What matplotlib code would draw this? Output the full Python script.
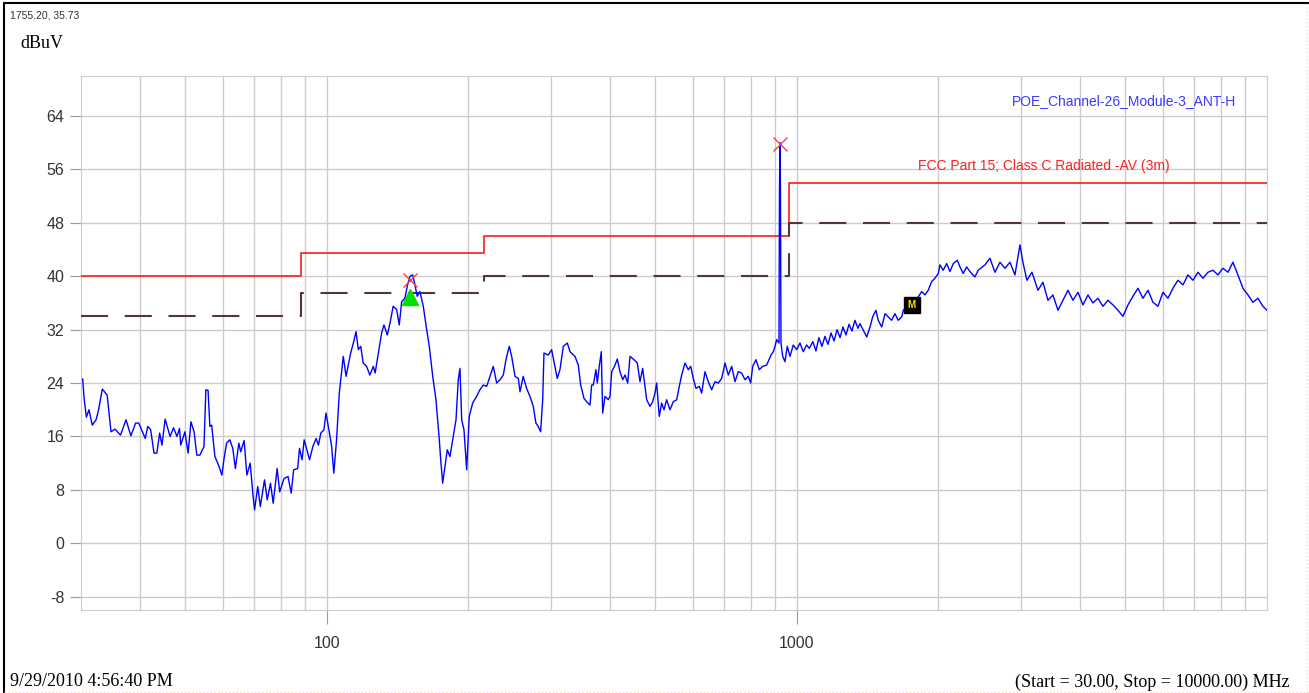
import matplotlib.pyplot as plt
from matplotlib.lines import Line2D

plt.rcParams['font.family'] = 'Liberation Sans'
plt.rcParams['axes.unicode_minus'] = False

# measured trace (MHz, dBuV)
freq_mhz = [
    30.25, 30.45, 30.8, 31.2, 31.7, 32.3, 32.7, 33.3, 34.1, 34.75,
    35.45, 36.4, 37.4, 38.3, 39.2, 39.8, 41.1, 41.6, 42.2, 42.9,
    43.5, 44.1, 44.6, 45.3, 46.4, 47.2, 48.0, 48.6, 48.9, 49.9,
    50.7, 51.4, 52.2, 52.9, 53.7, 54.8, 55.3, 55.9, 56.4, 56.9,
    57.8, 59.0, 59.8, 60.4, 61.2, 62.2, 63.1, 63.9, 65.0, 65.6,
    66.7, 67.6, 68.7, 69.6, 70.2, 71.3, 72.2, 73.7, 74.7, 75.9,
    76.9, 78.4, 79.4, 81.1, 82.7, 84.0, 85.0, 86.7, 87.5, 88.6,
    89.5, 91.9, 93.4, 94.9, 96.0, 97.1, 98.6, 99.6, 101.2, 102.4,
    103.5, 104.9, 106.3, 108.4, 109.9, 112.4, 113.9, 115.4, 116.7, 118.1,
    119.5, 121.5, 123.5, 125.6, 126.7, 128.7, 130.8, 132.3, 134.5, 136.3,
    138.4, 140.8, 142.6, 144.3, 146.6, 148.3, 150.3, 152.3, 154.0, 155.7,
    157.8, 160.4, 163.1, 165.2, 168.0, 170.7, 173.5, 174.7, 176.4, 178.4,
    180.4, 182.8, 185.8, 188.3, 190.4, 192.0, 193.6, 195.8, 198.4, 200.9,
    204.3, 208.3, 211.7, 215.2, 218.8, 222.4, 226.0, 229.8, 233.6, 237.4,
    240.5, 244.4, 247.3, 251.4, 255.5, 257.6, 261.7, 266.1, 270.5, 274.9,
    278.5, 281.7, 285.0, 287.9, 289.7, 295.9, 300.8, 305.7, 309.2, 313.3,
    318.5, 324.8, 329.1, 337.2, 342.7, 346.8, 352.4, 357.1, 363.0, 365.9,
    368.8, 373.7, 376.2, 379.8, 383.6, 386.2, 390.6, 396.9, 400.3, 403.7,
    410.3, 414.9, 420.4, 426.1, 430.9, 436.6, 441.6, 450.3, 457.6, 463.7,
    469.8, 475.1, 479.1, 486.9, 493.4, 499.0, 503.1, 509.6, 515.6, 521.5,
    528.4, 537.1, 545.8, 555.0, 562.1, 568.7, 578.0, 587.4, 594.4, 601.9,
    610.0, 619.9, 627.2, 637.5, 647.9, 658.7, 669.5, 680.4, 691.8, 703.2,
    714.6, 726.6, 738.4, 750.5, 763.0, 775.5, 788.1, 797.4, 805.3, 818.4,
    831.7, 845.7, 862.4, 880.8, 890.8, 898.2, 905.7, 916.0, 918.1, 920.5,
    922.6, 925.0, 932.8, 943.3, 954.0, 966.7, 982.4, 998.9, 1015.2, 1031.5,
    1048.9, 1062.3, 1081.5, 1097.6, 1113.8, 1130.5, 1147.3, 1164.3, 1182, 1199.5,
    1217.2, 1235.3, 1253.2, 1271.8, 1290.6, 1309.4, 1328.8, 1348.5, 1361.8, 1384.5,
    1407.7, 1430.7, 1449.1, 1472.6, 1489.3, 1515.1, 1539.9, 1565.0, 1590.4, 1616.4,
    1642.7, 1670.7, 1683.8, 1712.1, 1740.1, 1767.8, 1811.6, 1842.2, 1872.4, 1902.8,
    1934.6, 1966.2, 1998.2, 2015.0, 2047.9, 2082.3, 2116.3, 2151.0, 2193.8, 2222.9,
    2258.2, 2296.2, 2333.7, 2391.4, 2430.4, 2511.8, 2574.1, 2638.2, 2703.7, 2770.8,
    2839.5, 2909.5, 2981.7, 3025.4, 3085.3, 3162.4, 3256.8, 3337.4, 3420.3, 3505.0,
    3592.1, 3680.7, 3772.2, 3865.5, 3961.6, 4059.4, 4160.3, 4263.4, 4369.3, 4477.5,
    4588.7, 4702.6, 4819.5, 4937.9, 5060.7, 5186.3, 5315.2, 5446.9, 5582.3, 5719.5,
    5861.7, 6007.3, 6156.6, 6308.2, 6465.0, 6625.3, 6790.0, 6957.5, 7130.5, 7306.9,
    7488.5, 7673.5, 7864.2, 8059.2, 8259.5, 8463.1, 8673.5, 8888.3, 9109.2, 9334.6,
    9566.6, 9803.1, 9997.3]

level_dbuv = [
    24.6, 21.8, 18.9, 20.0, 17.7, 18.5, 20.0, 23.1, 22.2, 16.7,
    17.1, 16.2, 18.5, 16.1, 18.0, 18.0, 15.7, 17.5, 17.0, 13.5,
    13.5, 16.5, 14.7, 18.6, 16.0, 17.3, 16.0, 17.2, 14.7, 16.7,
    13.5, 18.2, 16.7, 13.2, 13.2, 14.5, 23.0, 22.9, 17.5, 17.7,
    13.0, 11.5, 10.2, 12.5, 15.0, 15.5, 14.2, 11.2, 15.0, 13.7,
    15.4, 10.2, 12.0, 7.5, 5.0, 8.5, 5.5, 9.5, 6.5, 9.0,
    6.0, 11.2, 7.7, 9.7, 10.0, 7.5, 11.0, 11.2, 14.2, 12.5,
    15.5, 12.5, 14.5, 15.7, 14.7, 16.5, 17.0, 19.5, 16.7, 14.5,
    10.5, 15.5, 22.5, 28.0, 25.0, 28.5, 30.0, 31.7, 29.0, 29.5,
    27.0, 26.5, 25.2, 26.5, 25.5, 28.5, 31.5, 32.7, 31.2, 33.0,
    35.5, 35.0, 32.7, 36.2, 36.7, 38.5, 40.0, 40.2, 38.7, 37.0,
    37.7, 35.5, 32.0, 29.5, 25.0, 21.5, 15.5, 12.5, 9.0, 11.5,
    14.0, 13.0, 16.0, 18.5, 24.5, 26.2, 18.5, 17.0, 11.0, 19.0,
    21.0, 22.0, 23.0, 23.7, 23.5, 25.0, 26.5, 24.0, 24.5, 25.2,
    27.5, 29.5, 28.0, 25.0, 24.7, 22.7, 25.0, 23.2, 22.0, 20.5,
    18.0, 17.5, 16.7, 21.5, 28.5, 28.2, 29.0, 26.5, 24.7, 26.0,
    29.5, 30.0, 28.7, 28.0, 26.7, 23.7, 21.7, 21.2, 20.7, 23.7,
    23.7, 26.0, 24.0, 26.5, 28.7, 19.5, 22.0, 21.5, 22.0, 25.7,
    26.7, 27.6, 25.7, 24.5, 25.2, 24.0, 28.0, 27.5, 27.0, 24.2,
    26.2, 23.5, 21.5, 20.5, 21.2, 22.5, 24.0, 19.0, 21.0, 20.0,
    21.5, 20.0, 21.2, 21.5, 23.5, 25.2, 27.0, 26.0, 26.5, 24.7,
    23.2, 23.5, 22.5, 25.7, 24.2, 23.0, 24.2, 24.0, 24.7, 27.0,
    25.2, 26.5, 24.2, 25.7, 25.5, 24.5, 25.0, 24.0, 26.5, 27.5,
    26.0, 26.5, 26.7, 28.2, 28.7, 29.5, 30.5, 30.0, 53.0, 60.0,
    53.0, 30.0, 28.0, 27.2, 29.5, 28.0, 29.7, 29.0, 30.0, 28.7,
    29.7, 29.2, 30.2, 28.8, 30.8, 29.5, 31.0, 29.8, 31.5, 30.3,
    32.0, 30.8, 32.4, 31.2, 32.8, 31.8, 33.4, 32.2, 32.9, 31.9,
    30.9, 32.4, 33.9, 34.9, 33.4, 32.4, 34.4, 33.9, 33.4, 34.4,
    33.4, 33.9, 34.9, 35.4, 35.9, 36.2, 36.9, 37.7, 37.2, 37.9,
    39.2, 39.7, 40.4, 41.7, 40.9, 41.9, 40.7, 41.9, 42.4, 41.4,
    40.4, 41.4, 40.7, 39.9, 40.9, 41.7, 42.7, 40.6, 42.1, 41.2,
    42.1, 40.2, 44.7, 42.1, 39.4, 40.6, 37.9, 39.1, 36.4, 37.2,
    34.9, 36.4, 37.9, 36.4, 37.6, 35.7, 37.2, 36.0, 36.7, 35.5,
    36.4, 35.7, 34.9, 34.0, 35.7, 37.0, 38.2, 36.7, 37.9, 36.1,
    35.5, 37.6, 36.7, 38.2, 39.4, 38.7, 40.2, 39.4, 40.6, 39.7,
    40.6, 40.9, 40.2, 41.2, 40.6, 42.1, 40.2, 38.2, 37.2, 36.1,
    36.7, 35.5, 34.9]

# limit lines (step edges)
limit_freq = [30, 88, 216, 960, 10000]
limit_red = [40, 43.5, 46, 54, 54]
limit_dash = [34, 37.5, 40, 48, 48]

# markers
peak_freq = [150.3, 920.5]
peak_level = [39.5, 59.8]
tri_freq, tri_level = 150.3, 36.9
m_freq, m_level = 1755.20, 35.73

y_ticks = [-8, 0, 8, 16, 24, 32, 40, 48, 56, 64]
x_major = [100, 1000]
x_minor = [40, 50, 60, 70, 80, 90, 200, 300, 400, 500, 600, 700, 800, 900,
           2000, 3000, 4000, 5000, 6000, 7000, 8000, 9000]

fig = plt.figure(figsize=(13.09, 6.93), dpi=100)
ax = fig.add_axes([81 / 1309, 1 - 610 / 693, 1186 / 1309, 534 / 693])

ax.set_xscale('log')
ax.set_xlim(30, 10000)
ax.set_ylim(-10, 70)

ax.plot(limit_freq, limit_red, drawstyle='steps-post', color='#ff2a2a', lw=1.3, zorder=3)
ax.plot(limit_freq, limit_dash, drawstyle='steps-post', color='#553535', lw=1.5,
        dashes=(13, 8), zorder=3)
ax.plot(freq_mhz, level_dbuv, color='#0000ff', lw=1.0, zorder=4)

ax.plot(peak_freq, peak_level, 'x', color='#ff4040', ms=10, mew=1.0, zorder=5)
ax.plot(tri_freq, tri_level, '^', color='#00e000', ms=11, zorder=5)
ax.plot(m_freq, m_level, 's', color='black', ms=11, zorder=5)
ax.text(m_freq, m_level, 'M', color='#ffe000', fontsize=7, fontweight='bold',
        ha='center', va='center', zorder=6)

# grid and ticks
ax.set_yticks(y_ticks)
ax.set_xticks(x_major)
ax.set_xticklabels(['100', '1000'])
ax.set_xticks(x_minor, minor=True)
ax.set_xticklabels([], minor=True)
ax.grid(which='both', color='#cccccc', lw=1.0)
ax.set_axisbelow(True)
ax.tick_params(axis='y', length=8, color='#999999', pad=4, labelsize=11.5, labelcolor='#333333')
ax.tick_params(axis='x', which='major', length=10, color='#999999', pad=9, labelsize=11.5,
               labelcolor='#333333')
ax.tick_params(axis='x', which='minor', length=0)
for sp in ax.spines.values():
    sp.set_color('#cccccc')

ax.text(0.9739, 0.9532, 'POE_Channel-26_Module-3_ANT-H', transform=ax.transAxes,
        ha='right', va='center', color='#3a3aff', fontsize=10)
ax.text(0.7057, 0.8315, 'FCC Part 15; Class C Radiated -AV (3m)', transform=ax.transAxes,
        ha='left', va='center', color='#ff2020', fontsize=10)

# figure texts
fig.text(10 / 1309, 1 - 15 / 693, '1755.20, 35.73', fontsize=7.5, color='#333333',
         ha='left', va='center')
fig.text(20 / 1309, 1 - 43 / 693, 'dBuV', fontsize=13, ha='left', va='center',
         family='Liberation Serif')
fig.text(10 / 1309, 1 - 682 / 693, '9/29/2010 4:56:40 PM', fontsize=13, ha='left',
         va='center', family='Liberation Serif')
fig.text(1290 / 1309, 1 - 682 / 693, '(Start = 30.00, Stop = 10000.00) MHz', fontsize=13,
         ha='right', va='center', family='Liberation Serif')

# outer frame
fig.add_artist(Line2D([4 / 1309, 4 / 1309], [0, 1 - 3 / 693], color='black', lw=1.5))
fig.add_artist(Line2D([4 / 1309, 1], [1 - 3 / 693, 1 - 3 / 693], color='black', lw=1.5))
fig.add_artist(Line2D([1307 / 1309, 1307 / 1309], [0, 1 - 3 / 693], color='#e6e0c0', lw=1, ls=':'))
fig.add_artist(Line2D([4 / 1309, 1], [1.5 / 693, 1.5 / 693], color='#e6e0c0', lw=1, ls=':'))

fig.savefig('out.png', dpi=100)
